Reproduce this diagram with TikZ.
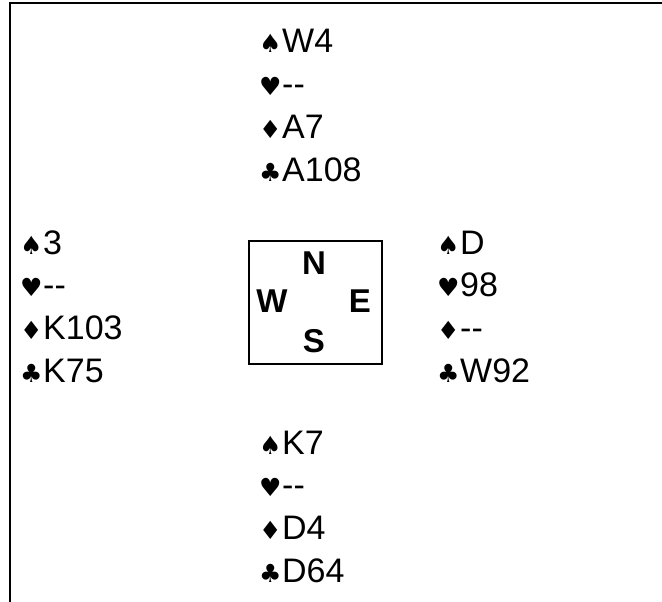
\documentclass[tikz,border=0pt]{standalone}
\usepackage{fontspec}
\setmainfont{Liberation Sans}[Ligatures=TeXOff]
\newfontfamily\suitfont{DejaVu Sans}

\newcommand\hcard[2]{\makebox[23pt][l]{\fontsize{25}{25}\suitfont#1}#2}

\tikzset{
  hand/.style={anchor=base west, inner sep=0pt, font=\fontsize{34}{40}\selectfont},
  seat/.style={anchor=base, inner sep=0pt, font=\fontsize{33}{40}\selectfont\bfseries},
}

\begin{document}
\begin{tikzpicture}[x=1pt, y=-1pt]
\useasboundingbox (0,0) rectangle (662,602);
% frame
\draw[line width=2pt] (10,602) -- (10,3) -- (662,3);

% table with the four seats
\node[draw, line width=1.5pt, minimum width=133pt, minimum height=123pt, inner sep=0pt] (table) at (315.5,302.5) {};
\node[seat] (seatN) at (314,274) {N};
\node[seat] (seatW) at (272,312) {W};
\node[seat] (seatE) at (360,312) {E};
\node[seat] (seatS) at (314,352) {S};

% hands
\foreach \s/\v [count=\i] in {♠/W4, ♥/--, ♦/A7, ♣/A108}
  \node[hand] (north\i) at (259,{53+(\i-1)*42.7}) {\hcard{\s}{\v}};
\foreach \s/\v [count=\i] in {♠/3, ♥/--, ♦/K103, ♣/K75}
  \node[hand] (west\i) at (20,{254+(\i-1)*42.7}) {\hcard{\s}{\v}};
\foreach \s/\v [count=\i] in {♠/D, ♥/98, ♦/--, ♣/W92}
  \node[hand] (east\i) at (437,{254+(\i-1)*42.7}) {\hcard{\s}{\v}};
\foreach \s/\v [count=\i] in {♠/K7, ♥/--, ♦/D4, ♣/D64}
  \node[hand] (south\i) at (259,{454+(\i-1)*42.7}) {\hcard{\s}{\v}};
\end{tikzpicture}
\end{document}
